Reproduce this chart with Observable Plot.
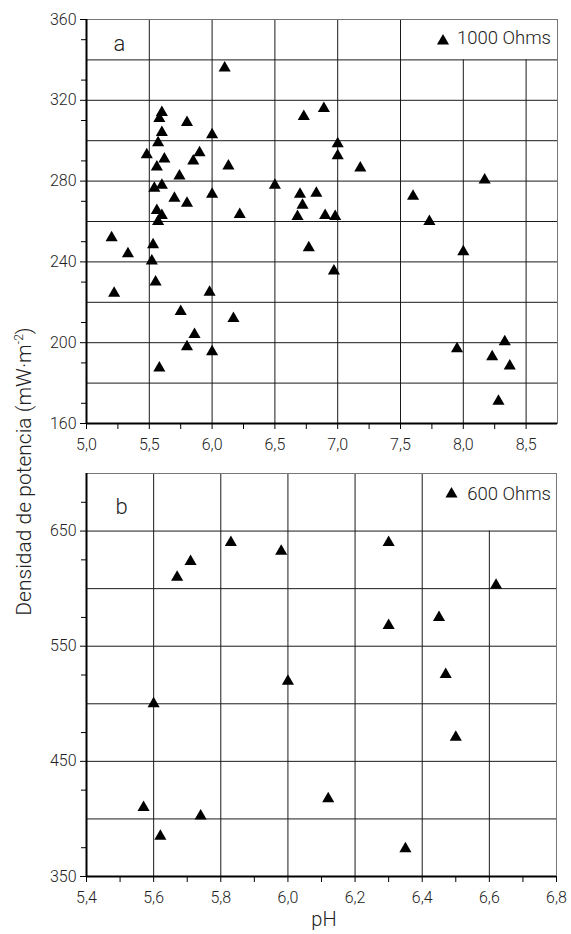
<!DOCTYPE html>
<html>
<head>
<meta charset="utf-8">
<script src="https://cdn.jsdelivr.net/npm/d3@7"></script>
<script src="https://cdn.jsdelivr.net/npm/@observablehq/plot@0.6"></script>
<style>
  body { margin: 0; background: #fff; }
  #wrap { position: relative; width: 571px; height: 934px; overflow: hidden; background: #fff;
          font-family: Roboto, "Liberation Sans", sans-serif; font-weight: 300; color: #222; }
  #pa { position: absolute; left: 0; top: 0; }
  #pb { position: absolute; left: 0; top: 455px; }
  #ytitle { position: absolute; width: 420px; height: 21px; line-height: 21px; font-size: 21px;
            text-align: center; left: -186px; top: 461px; transform: rotate(-90deg); white-space: nowrap; }
  #ytitle sup { font-size: 12px; vertical-align: 0; position: relative; top: -8px; }
  #xtitle { position: absolute; width: 100px; left: 274px; top: 909px; font-size: 20px; line-height: 20px; text-align: center; }
</style>
</head>
<body>
<div id="wrap">
  <div id="pa"></div>
  <div id="pb"></div>
  <div id="ytitle">Densidad de potencia (mW·m<sup>-2</sup>)</div>
  <div id="xtitle">pH</div>
</div>
<script>
// ---------- Panel a: 1000 Ohms ----------
const phA = [5.60, 5.58, 5.80, 5.60, 6.00, 5.57, 5.48, 5.90, 5.62, 5.85, 5.56, 6.13, 5.74, 5.60, 5.54,
             6.00, 5.70, 5.80, 5.56, 5.60, 5.57, 6.22, 5.20, 5.53, 5.33, 5.52, 5.55, 5.22, 5.98, 5.75,
             6.17, 5.86, 5.80, 6.00, 5.58, 6.10, 6.89, 6.73, 7.00, 7.00, 7.18, 6.50, 6.70, 6.83, 6.72,
             6.68, 6.90, 6.98, 6.77, 6.97, 8.17, 7.60, 7.73, 8.00, 8.33, 7.95, 8.23, 8.37, 8.28];
const densA = [314, 311, 309, 304, 303, 299, 293, 294, 291, 290, 287, 287.5, 282.5, 278, 276.5,
               273.5, 271.5, 269, 265.5, 263, 260, 263.5, 252, 248.5, 244, 240.5, 230, 224.5, 225, 215.5,
               212, 204, 198, 195.5, 187.5, 336, 316, 312, 298.5, 292.5, 286.5, 278, 273.5, 274, 268,
               262.5, 263, 262.5, 247, 235.5, 280.5, 272.5, 260, 245, 200.5, 197, 193, 188.5, 171];
const xDomA = [5.0, 8.75];
const yDomA = [160, 360];
const xLabelA = [5.0, 5.5, 6.0, 6.5, 7.0, 7.5, 8.0, 8.5];
const xMinorA = [5.25, 5.75, 6.25, 6.75, 7.25, 7.75, 8.25];
const xGridA = [5.5, 6.0, 6.5, 7.0, 7.5, 8.0, 8.5];
const yLabelA = [160, 200, 240, 280, 320, 360];
const yMinorA = [170, 190, 210, 230, 250, 270, 290, 310, 330, 350];
const yGridA = [180, 200, 220, 240, 260, 280, 300, 320, 340];
const legendA = "1000 Ohms";
const panelA = "a";
const legendCutXA = 7.5, legendCutYA = 340;

// ---------- Panel b: 600 Ohms ----------
const phB = [5.67, 5.71, 5.83, 5.98, 6.00, 6.30, 6.62, 6.30, 6.45, 6.47, 5.60, 5.57, 5.74, 5.62, 6.50, 6.12, 6.35];
const densB = [610, 623.5, 640, 632.5, 519.5, 640, 603, 568, 575, 525.5, 500, 410, 402.5, 385, 471, 417.5, 374];
const xDomB = [5.4, 6.8];
const yDomB = [350, 700];
const xLabelB = [5.4, 5.6, 5.8, 6.0, 6.2, 6.4, 6.6, 6.8];
const xMinorB = [5.5, 5.7, 5.9, 6.1, 6.3, 6.5, 6.7];
const xGridB = [5.6, 5.8, 6.0, 6.2, 6.4, 6.6];
const yLabelB = [350, 450, 550, 650];
const yMinorB = [375, 425, 475, 525, 575, 625, 675];
const yGridB = [400, 450, 500, 550, 600, 650];
const legendB = "600 Ohms";
const panelB = "b";
const legendCutXB = 6.4, legendCutYB = 650;

const fmt1 = d => d.toFixed(1).replace(".", ",");
const FONT = "Roboto, 'Liberation Sans', sans-serif";

function panel(o) {
  return Plot.plot({
    width: 571, height: o.height,
    marginLeft: 86, marginRight: o.mr, marginTop: o.mt, marginBottom: o.mb,
    x: { domain: o.xDom },
    y: { domain: o.yDom },
    style: { fontFamily: FONT, fontWeight: 300, fontSize: "16px", color: "#222", background: "#fff" },
    marks: [
      Plot.ruleY(o.yGrid, { stroke: "#1a1a1a", strokeWidth: 1 }),
      Plot.ruleX(o.xGrid, { y1: o.yDom[0], y2: d => d > o.cutX ? o.cutY : o.yDom[1], stroke: "#1a1a1a", strokeWidth: 1 }),
      Plot.frame({ stroke: "#777", strokeWidth: 1 }),
      Plot.ruleX([o.xDom[0]], { stroke: "#000", strokeWidth: 2 }),
      Plot.ruleY([o.yDom[0]], { stroke: "#000", strokeWidth: 2 }),
      Plot.axisX({ ticks: o.xLabel, tickFormat: fmt1, tickSize: 6, tickPadding: 9, fontSize: 16, label: null, stroke: "#000" }),
      Plot.axisX({ ticks: o.xMinor, tickFormat: () => "", tickSize: 6, label: null, stroke: "#000" }),
      Plot.axisY({ ticks: o.yLabel, tickFormat: d => String(d), tickSize: 6, tickPadding: 4, fontSize: 16, label: null, stroke: "#000" }),
      Plot.axisY({ ticks: o.yMinor, tickFormat: () => "", tickSize: 5, label: null, stroke: "#000" }),
      Plot.dot(o.dens, { x: o.ph, y: o.dens, symbol: "triangle", r: 4.5, fill: "#000", stroke: "none" }),
      Plot.text([o.panelLabel], { frameAnchor: "top-left", dx: o.pdx, dy: o.pdy, lineAnchor: "bottom", textAnchor: "middle", fontSize: 22 }),
      Plot.text([o.legend], { frameAnchor: "top-right", dx: o.ldx, dy: o.ldy, lineAnchor: "bottom", textAnchor: "end", fontSize: 18.5 }),
      Plot.dot([o.legend], { x: () => o.xDom[1], y: () => o.yDom[1], dx: o.sdx, dy: o.sdy, symbol: "triangle", r: 4.5, fill: "#000", stroke: "none" })
    ]
  });
}

document.getElementById("pa").append(panel({
  height: 455, mr: 14, mt: 19, mb: 32,
  xDom: xDomA, yDom: yDomA, xLabel: xLabelA, xMinor: xMinorA, xGrid: xGridA,
  yLabel: yLabelA, yMinor: yMinorA, yGrid: yGridA, cutX: legendCutXA, cutY: legendCutYA,
  ph: phA, dens: densA, panelLabel: panelA, legend: legendA,
  pdx: 33, pdy: 31, ldx: -6.5, ldy: 24, sdx: -114.5, sdy: 21.5
}));
document.getElementById("pb").append(panel({
  height: 451, mr: 15, mt: 18, mb: 30,
  xDom: xDomB, yDom: yDomB, xLabel: xLabelB, xMinor: xMinorB, xGrid: xGridB,
  yLabel: yLabelB, yMinor: yMinorB, yGrid: yGridB, cutX: legendCutXB, cutY: legendCutYB,
  ph: phB, dens: densB, panelLabel: panelB, legend: legendB,
  pdx: 35, pdy: 40, ldx: -5.5, ldy: 26.5, sdx: -105, sdy: 20.5
}));
</script>
</body>
</html>
